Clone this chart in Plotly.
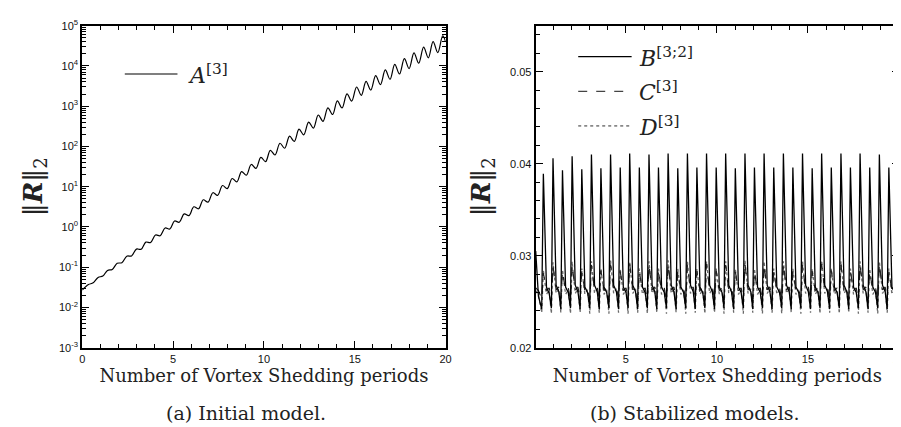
import plotly.graph_objects as go

# ---------------- data: panel (a) ----------------
a_x = [0.00, 0.34, 0.60, 0.87, 1.13, 1.39, 1.65, 1.92, 2.18, 2.45, 2.71, 2.98, 3.24, 3.50, 3.76,
       4.03, 4.29, 4.56, 4.82, 5.08, 5.34, 5.61, 5.87, 6.14, 6.40, 6.66, 6.92, 7.19, 7.45,
       7.72, 7.98, 8.25, 8.51, 8.77, 9.03, 9.30, 9.56, 9.83, 10.09, 10.35, 10.61, 10.88, 11.14,
       11.41, 11.67, 11.93, 12.19, 12.46, 12.72, 12.99, 13.25, 13.52, 13.78, 14.04, 14.30,
       14.57, 14.83, 15.10, 15.36, 15.62, 15.88, 16.15, 16.41, 16.68, 16.94, 17.20, 17.46,
       17.73, 17.99, 18.26, 18.52, 18.79, 19.05, 19.31, 19.57, 19.84, 20.00]
a_y = [0.0272, 0.0372, 0.0409, 0.0559, 0.0603, 0.0833, 0.0882, 0.125, 0.130, 0.188, 0.191,
       0.282, 0.279, 0.420, 0.412, 0.630, 0.607, 0.945, 0.893, 1.41, 1.31, 2.11, 1.92, 3.17,
       2.83, 4.73, 4.14, 7.10, 6.10, 10.7, 8.98, 16.0, 13.2, 23.8, 19.3, 35.7, 28.5, 53.6,
       41.9, 79.9, 61.3, 120, 90.3, 180, 133, 268, 194, 403, 286, 604, 422, 907, 621, 1351,
       908, 2028, 1337, 2998, 1866, 4130, 2523, 5728, 3432, 7942, 4670, 10950, 6316, 15180,
       8593, 21040, 11690, 29170, 15900, 40210, 21510, 55740, 40000]

# ---------------- data: panel (b) ----------------
b_x = [0.05, 0.20,
       0.38, 0.47, 0.64, 0.79,
       0.91, 1.00, 1.17, 1.32,
       1.43, 1.52, 1.69, 1.84,
       1.96, 2.05, 2.22, 2.37,
       2.49, 2.58, 2.75, 2.90,
       3.02, 3.11, 3.28, 3.43,
       3.54, 3.63, 3.80, 3.95,
       4.07, 4.16, 4.33, 4.48,
       4.60, 4.69, 4.86, 5.01,
       5.12, 5.21, 5.38, 5.53,
       5.65, 5.74, 5.91, 6.06,
       6.18, 6.27, 6.44, 6.59,
       6.70, 6.79, 6.96, 7.11,
       7.23, 7.32, 7.49, 7.64,
       7.76, 7.85, 8.02, 8.17,
       8.29, 8.38, 8.55, 8.70,
       8.81, 8.90, 9.07, 9.22,
       9.34, 9.43, 9.60, 9.75,
       9.87, 9.96, 10.13, 10.28,
       10.39, 10.48, 10.65, 10.80,
       10.92, 11.01, 11.18, 11.33,
       11.45, 11.54, 11.71, 11.86,
       11.97, 12.06, 12.23, 12.38,
       12.50, 12.59, 12.76, 12.91,
       13.03, 13.12, 13.29, 13.44,
       13.56, 13.65, 13.82, 13.97,
       14.08, 14.17, 14.34, 14.49,
       14.61, 14.70, 14.87, 15.02,
       15.14, 15.23, 15.40, 15.55,
       15.66, 15.75, 15.92, 16.07,
       16.19, 16.28, 16.45, 16.60,
       16.72, 16.81, 16.98, 17.13,
       17.24, 17.33, 17.50, 17.65,
       17.77, 17.86, 18.03, 18.18,
       18.30, 18.39, 18.56, 18.71,
       18.83, 18.92, 19.09, 19.24,
       19.35, 19.44, 19.61, 19.76,
       19.88, 20.00]

b_y = [0.0305, 0.0256,
       0.0242, 0.0389, 0.0266, 0.0259,
       0.0243, 0.0406, 0.0268, 0.0261,
       0.0242, 0.0393, 0.0266, 0.0260,
       0.0243, 0.0408, 0.0268, 0.0261,
       0.0242, 0.0394, 0.0266, 0.0260,
       0.0243, 0.0410, 0.0268, 0.0261,
       0.0242, 0.0395, 0.0266, 0.0260,
       0.0243, 0.0410, 0.0268, 0.0261,
       0.0242, 0.0396, 0.0266, 0.0260,
       0.0243, 0.0411, 0.0268, 0.0261,
       0.0242, 0.0396, 0.0266, 0.0260,
       0.0243, 0.0410, 0.0268, 0.0261,
       0.0242, 0.0396, 0.0266, 0.0260,
       0.0243, 0.0411, 0.0268, 0.0261,
       0.0242, 0.0395, 0.0266, 0.0260,
       0.0243, 0.0411, 0.0268, 0.0261,
       0.0242, 0.0396, 0.0266, 0.0260,
       0.0243, 0.0411, 0.0268, 0.0261,
       0.0242, 0.0396, 0.0266, 0.0260,
       0.0243, 0.0411, 0.0268, 0.0261,
       0.0242, 0.0395, 0.0266, 0.0260,
       0.0243, 0.0411, 0.0268, 0.0261,
       0.0242, 0.0396, 0.0266, 0.0260,
       0.0243, 0.0411, 0.0268, 0.0261,
       0.0242, 0.0396, 0.0266, 0.0260,
       0.0243, 0.0411, 0.0268, 0.0261,
       0.0242, 0.0396, 0.0266, 0.0260,
       0.0243, 0.0411, 0.0268, 0.0261,
       0.0242, 0.0395, 0.0266, 0.0260,
       0.0243, 0.0411, 0.0268, 0.0261,
       0.0242, 0.0396, 0.0266, 0.0260,
       0.0243, 0.0411, 0.0268, 0.0261,
       0.0242, 0.0396, 0.0266, 0.0260,
       0.0243, 0.0411, 0.0268, 0.0261,
       0.0242, 0.0396, 0.0266, 0.0260,
       0.0243, 0.0410, 0.0268, 0.0261,
       0.0242, 0.0396, 0.0266, 0.0260,
       0.0243, 0.0411, 0.0268, 0.0261,
       0.0242, 0.0396, 0.0266, 0.0260,
       0.0243, 0.0370]

c_y = [0.0265, 0.0262,
       0.0253, 0.0281, 0.0262, 0.0265,
       0.0252, 0.0289, 0.0263, 0.0266,
       0.0253, 0.0283, 0.0262, 0.0265,
       0.0252, 0.0290, 0.0263, 0.0266,
       0.0253, 0.0283, 0.0262, 0.0265,
       0.0252, 0.0290, 0.0263, 0.0266,
       0.0253, 0.0284, 0.0262, 0.0265,
       0.0252, 0.0290, 0.0263, 0.0266,
       0.0253, 0.0283, 0.0262, 0.0265,
       0.0252, 0.0291, 0.0263, 0.0266,
       0.0253, 0.0283, 0.0262, 0.0265,
       0.0252, 0.0290, 0.0263, 0.0266,
       0.0253, 0.0284, 0.0262, 0.0265,
       0.0252, 0.0291, 0.0263, 0.0266,
       0.0253, 0.0283, 0.0262, 0.0265,
       0.0252, 0.0290, 0.0263, 0.0266,
       0.0253, 0.0283, 0.0262, 0.0265,
       0.0252, 0.0291, 0.0263, 0.0266,
       0.0253, 0.0284, 0.0262, 0.0265,
       0.0252, 0.0290, 0.0263, 0.0266,
       0.0253, 0.0283, 0.0262, 0.0265,
       0.0252, 0.0291, 0.0263, 0.0266,
       0.0253, 0.0283, 0.0262, 0.0265,
       0.0252, 0.0290, 0.0263, 0.0266,
       0.0253, 0.0284, 0.0262, 0.0265,
       0.0252, 0.0291, 0.0263, 0.0266,
       0.0253, 0.0283, 0.0262, 0.0265,
       0.0252, 0.0290, 0.0263, 0.0266,
       0.0253, 0.0283, 0.0262, 0.0265,
       0.0252, 0.0291, 0.0263, 0.0266,
       0.0253, 0.0284, 0.0262, 0.0265,
       0.0252, 0.0290, 0.0263, 0.0266,
       0.0253, 0.0283, 0.0262, 0.0265,
       0.0252, 0.0290, 0.0263, 0.0266,
       0.0253, 0.0283, 0.0262, 0.0265,
       0.0252, 0.0291, 0.0263, 0.0266,
       0.0253, 0.0283, 0.0262, 0.0265,
       0.0252, 0.0290, 0.0263, 0.0266,
       0.0253, 0.0284, 0.0262, 0.0265,
       0.0252, 0.0280]

d_y = [0.0262, 0.0257,
       0.0238, 0.0284, 0.0258, 0.0263,
       0.0237, 0.0293, 0.0259, 0.0264,
       0.0238, 0.0285, 0.0258, 0.0263,
       0.0237, 0.0294, 0.0259, 0.0264,
       0.0238, 0.0286, 0.0258, 0.0263,
       0.0237, 0.0294, 0.0259, 0.0264,
       0.0238, 0.0286, 0.0258, 0.0263,
       0.0237, 0.0295, 0.0259, 0.0264,
       0.0238, 0.0286, 0.0258, 0.0263,
       0.0237, 0.0294, 0.0259, 0.0264,
       0.0238, 0.0286, 0.0258, 0.0263,
       0.0237, 0.0294, 0.0259, 0.0264,
       0.0238, 0.0286, 0.0258, 0.0263,
       0.0237, 0.0295, 0.0259, 0.0264,
       0.0238, 0.0286, 0.0258, 0.0263,
       0.0237, 0.0294, 0.0259, 0.0264,
       0.0238, 0.0286, 0.0258, 0.0263,
       0.0237, 0.0294, 0.0259, 0.0264,
       0.0238, 0.0286, 0.0258, 0.0263,
       0.0237, 0.0294, 0.0259, 0.0264,
       0.0238, 0.0286, 0.0258, 0.0263,
       0.0237, 0.0295, 0.0259, 0.0264,
       0.0238, 0.0286, 0.0258, 0.0263,
       0.0237, 0.0294, 0.0259, 0.0264,
       0.0238, 0.0286, 0.0258, 0.0263,
       0.0237, 0.0294, 0.0259, 0.0264,
       0.0238, 0.0286, 0.0258, 0.0263,
       0.0237, 0.0294, 0.0259, 0.0264,
       0.0238, 0.0286, 0.0258, 0.0263,
       0.0237, 0.0295, 0.0259, 0.0264,
       0.0238, 0.0286, 0.0258, 0.0263,
       0.0237, 0.0294, 0.0259, 0.0264,
       0.0238, 0.0286, 0.0258, 0.0263,
       0.0237, 0.0294, 0.0259, 0.0264,
       0.0238, 0.0286, 0.0258, 0.0263,
       0.0237, 0.0294, 0.0259, 0.0264,
       0.0238, 0.0286, 0.0258, 0.0263,
       0.0237, 0.0294, 0.0259, 0.0264,
       0.0238, 0.0286, 0.0258, 0.0263,
       0.0237, 0.0285]

a_ticks = [1e-3, 1e-2, 1e-1, 1e0, 1e1, 1e2, 1e3, 1e4, 1e5]
a_ticktext = ["10<sup>-3</sup>", "10<sup>-2</sup>", "10<sup>-1</sup>", "10<sup>0</sup>",
              "10<sup>1</sup>", "10<sup>2</sup>", "10<sup>3</sup>", "10<sup>4</sup>", "10<sup>5</sup>"]
a_name = "<i>A</i><sup>[3]</sup>"
b_names = ["<i>B</i><sup>[3;2]</sup>", "<i>C</i><sup>[3]</sup>", "<i>D</i><sup>[3]</sup>"]
caption_a = "(a) Initial model."
caption_b = "(b) Stabilized models."
x_title = "Number of Vortex Shedding periods"
y_title = "‖<b><i>R</i></b>‖<sub>2</sub>"

SERIF = "DejaVu Serif"
SANS = "Liberation Sans"

fig = go.Figure()
fig.add_trace(go.Scatter(x=a_x, y=a_y, mode="lines", xaxis="x", yaxis="y",
                         line=dict(color="black", width=1.2, shape="spline", smoothing=1.0),
                         name="A[3]", showlegend=False))
fig.add_trace(go.Scatter(x=b_x, y=d_y, mode="lines", xaxis="x2", yaxis="y2",
                         line=dict(color="#6a6a6a", width=1.3, dash="dot"),
                         name="D[3]", showlegend=False))
fig.add_trace(go.Scatter(x=b_x, y=c_y, mode="lines", xaxis="x2", yaxis="y2",
                         line=dict(color="#222222", width=1.2, dash="dash"),
                         name="C[3]", showlegend=False))
fig.add_trace(go.Scatter(x=b_x, y=b_y, mode="lines", xaxis="x2", yaxis="y2",
                         line=dict(color="black", width=1.3),
                         name="B[3;2]", showlegend=False))

ydom = [1 - 343 / 427, 1 - 10 / 427]
common = dict(showline=True, linecolor="black", linewidth=2, mirror="allticks",
              ticks="inside", ticklen=7, tickwidth=1, tickcolor="black",
              showgrid=False, zeroline=False,
              tickfont=dict(family=SANS, size=11, color="#111"))

fig.update_layout(
    width=901, height=427,
    margin=dict(l=0, r=0, t=0, b=0),
    paper_bgcolor="white", plot_bgcolor="white",
    xaxis=dict(domain=[72 / 901, 439 / 901], range=[0, 20], tickvals=[0, 5, 10, 15, 20],
               minor=dict(dtick=1, ticks="inside", ticklen=4, tickcolor="black"),
               title=dict(text=x_title, font=dict(family=SERIF, size=18, color="#222"), standoff=4),
               anchor="y", **common),
    yaxis=dict(domain=ydom, type="log", range=[-3, 5], tickvals=a_ticks, ticktext=a_ticktext,
               minor=dict(dtick="D1", ticks="inside", ticklen=4, tickcolor="black"),
               title=dict(text=y_title, font=dict(family=SERIF, size=26, color="#222"), standoff=9),
               anchor="x", **common),
    xaxis2=dict(domain=[530 / 901, 897 / 901], range=[0.05, 20], tickvals=[5, 10, 15, 20],
                minor=dict(dtick=1, ticks="inside", ticklen=4, tickcolor="black"),
                title=dict(text=x_title, font=dict(family=SERIF, size=18, color="#222"), standoff=4),
                anchor="y2", **common),
    yaxis2=dict(domain=ydom, range=[0.02, 0.055], tickvals=[0.02, 0.03, 0.04, 0.05],
                minor=dict(dtick=0.002, ticks="inside", ticklen=4, tickcolor="black"),
                title=dict(text=y_title, font=dict(family=SERIF, size=26, color="#222"), standoff=12),
                anchor="x2", **common),
)

# legend keys drawn in axis-domain coordinates
fig.add_shape(type="line", xref="x domain", yref="y domain", x0=0.117, x1=0.262, y0=0.85, y1=0.85,
              line=dict(color="black", width=1.2))
fig.add_annotation(xref="x domain", yref="y domain", x=0.285, y=0.85, text=a_name, showarrow=False,
                   xanchor="left", yanchor="middle", font=dict(family=SERIF, size=22, color="#222"))

leg_styles = [dict(color="black", width=1.2), dict(color="#444", width=1.2, dash="dash"),
              dict(color="#888", width=1.6, dash="dot")]
leg_y = [0.904, 0.796, 0.689]
for name, sty, yy in zip(b_names, leg_styles, leg_y):
    fig.add_shape(type="line", xref="x2 domain", yref="y2 domain", x0=0.117, x1=0.264, y0=yy, y1=yy,
                  line=sty)
    fig.add_annotation(xref="x2 domain", yref="y2 domain", x=0.278, y=yy, text=name, showarrow=False,
                       xanchor="left", yanchor="middle", font=dict(family=SERIF, size=22, color="#222"))

fig.add_annotation(xref="paper", yref="paper", x=237 / 901, y=1 - 410 / 427, text=caption_a,
                   showarrow=False, xanchor="center", yanchor="middle",
                   font=dict(family=SERIF, size=19, color="#222"))
fig.add_annotation(xref="paper", yref="paper", x=691 / 901, y=1 - 410 / 427, text=caption_b,
                   showarrow=False, xanchor="center", yanchor="middle",
                   font=dict(family=SERIF, size=19, color="#222"))

fig.write_html("out.html")
